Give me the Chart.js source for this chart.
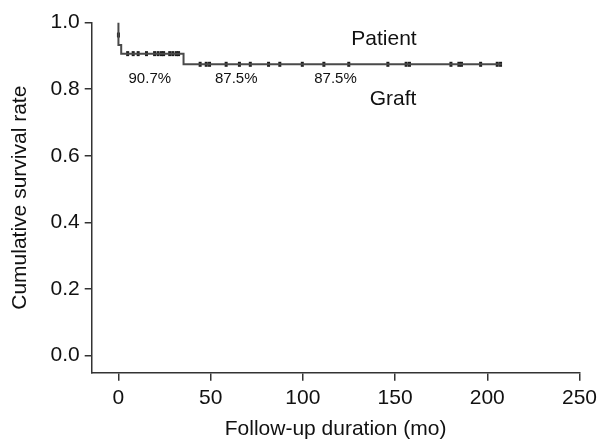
<!DOCTYPE html>
<html>
<head>
<meta charset="utf-8">
<script src="https://cdn.jsdelivr.net/npm/chart.js@4"></script>
<style>
  html, body { margin: 0; padding: 0; background: #ffffff; }
  #wrap { width: 602px; height: 439px; position: relative; }
</style>
</head>
<body>
<div id="wrap"><canvas id="c" width="602" height="439"></canvas></div>
<script>
// Kaplan-Meier step curve (time in months, cumulative survival)
const kmTimes = [0, 0, 0, 1.5, 35.3, 207.9];
const kmSurv  = [1.0, 0.963, 0.933, 0.907, 0.875, 0.875];

// Censored observations (time, survival at that time)
const censorTimes = [0, 5.0, 8.0, 10.7, 15.2, 19.6, 21.5, 23.3, 24.5, 27.8, 29.5, 31.4, 32.6,
  44.3, 47.6, 49.4, 58.4, 65.6, 71.5, 81.4, 87.5, 99.7, 111.4, 124.9, 146.1, 156, 157.8,
  180.3, 184.6, 186, 196.4, 205.4, 207.2];
const censorSurv = [0.963, 0.907, 0.907, 0.907, 0.907, 0.907, 0.907, 0.907, 0.907, 0.907, 0.907, 0.907, 0.907,
  0.875, 0.875, 0.875, 0.875, 0.875, 0.875, 0.875, 0.875, 0.875, 0.875, 0.875, 0.875, 0.875, 0.875,
  0.875, 0.875, 0.875, 0.875, 0.875, 0.875];

// Tick labels
const xTicks = [0, 50, 100, 150, 200, 250];
const yTicks = [0.0, 0.2, 0.4, 0.6, 0.8, 1.0];

// Text annotations
const noteTexts = ['Patient', 'Graft', '90.7%', '87.5%', '87.5%'];
const noteX     = [144, 148.9, 17.0, 63.9, 117.7];
const noteY     = [0.933, 0.752, 0.818, 0.818, 0.818];
const noteSize  = [21, 21, 15, 15, 15];

const FONT = "'Liberation Sans', Arial, sans-serif";

const notesPlugin = {
  id: 'notes',
  afterDatasetsDraw(chart) {
    const ctx = chart.ctx;
    const xs = chart.scales.x, ys = chart.scales.y;
    ctx.save();
    ctx.fillStyle = '#111';
    ctx.textAlign = 'center';
    ctx.textBaseline = 'alphabetic';
    noteTexts.forEach((t, i) => {
      ctx.font = noteSize[i] + 'px ' + FONT;
      ctx.fillText(t, xs.getPixelForValue(noteX[i]), ys.getPixelForValue(noteY[i]));
    });
    ctx.restore();
  }
};

new Chart(document.getElementById('c'), {
  type: 'scatter',
  data: {
    datasets: [
      {
        type: 'line',
        data: kmTimes.map((t, i) => ({ x: t, y: kmSurv[i] })),
        stepped: true,
        borderColor: '#4a4a4a',
        borderWidth: 2,
        pointRadius: 0,
        fill: false,
        clip: false
      },
      {
        data: censorTimes.map((t, i) => ({ x: t, y: censorSurv[i] })),
        pointStyle: 'line',
        rotation: 90,
        radius: 2.5,
        borderWidth: 3,
        borderColor: '#1a1a1a',
        backgroundColor: '#1a1a1a',
        clip: false
      }
    ]
  },
  options: {
    responsive: false,
    animation: false,
    events: [],
    layout: { padding: { left: 0, top: 22.7, right: 20, bottom: 0 } },
    plugins: { legend: { display: false }, tooltip: { enabled: false } },
    scales: {
      x: {
        type: 'linear',
        min: -14.5,
        max: 250,
        afterBuildTicks(s) { s.ticks = xTicks.map(v => ({ value: v })); },
        afterFit(s) { s.height = 66.3; },
        grid: { display: true, drawOnChartArea: false, drawTicks: true, tickLength: 8, color: '#333', lineWidth: 1.5 },
        border: { display: true, color: '#333', width: 1.5 },
        ticks: { color: '#111', font: { family: FONT, size: 21 }, padding: 5, maxRotation: 0,
                 callback: v => String(v) },
        title: { display: true, text: 'Follow-up duration (mo)', color: '#111',
                 font: { family: FONT, size: 21 }, padding: { top: 2, bottom: -3 } }
      },
      y: {
        type: 'linear',
        min: -0.052,
        max: 1.0,
        afterBuildTicks(s) { s.ticks = yTicks.map(v => ({ value: v })); },
        afterFit(s) { s.width = 91.7; },
        grid: { display: true, drawOnChartArea: false, drawTicks: true, tickLength: 7, color: '#333', lineWidth: 1.5 },
        border: { display: true, color: '#333', width: 1.5 },
        ticks: { color: '#111', font: { family: FONT, size: 21 }, padding: 5,
                 callback: v => v.toFixed(1) },
        title: { display: true, text: 'Cumulative survival rate', color: '#111',
                 font: { family: FONT, size: 21 }, padding: { top: 8, bottom: 0 } }
      }
    }
  },
  plugins: [notesPlugin]
});
</script>
</body>
</html>
